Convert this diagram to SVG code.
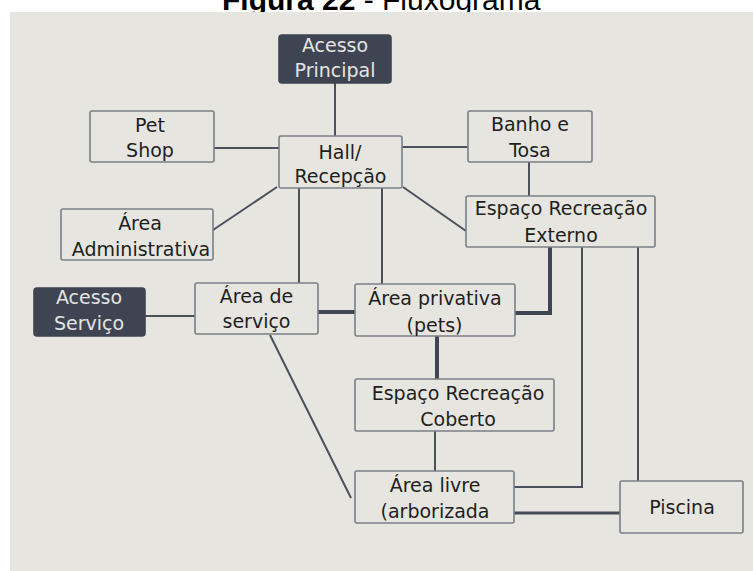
<svg xmlns="http://www.w3.org/2000/svg" width="753" height="571" viewBox="0 0 753 571">
<style>
.title{font-family:"Liberation Sans",Arial,sans-serif;font-size:30px;fill:#000}
.box{fill:#e6e5df;stroke:#7b7f88;stroke-width:1.6}
.dark{fill:#3e4451;stroke:#3e4451;stroke-width:1.6}
.t{font-family:"DejaVu Sans",sans-serif;font-size:19px;fill:#1e1e1e;text-anchor:middle}
.tl{font-family:"DejaVu Sans",sans-serif;font-size:19px;fill:#e4e4e4;text-anchor:middle}
.c{fill:none;stroke:#4a505c;stroke-width:2}
.ck{fill:none;stroke:#3f4552;stroke-width:4}
.cm{fill:none;stroke:#454b57;stroke-width:3}
</style>
<rect x="0" y="0" width="753" height="571" fill="#ffffff"/>
<text class="title" x="222" y="9.5"><tspan font-weight="bold">Figura 22</tspan> - Fluxograma</text>
<rect x="10" y="12" width="743" height="559" fill="#e6e5df"/>
<g id="connectors">
<path class="c" d="M335,83 V136"/>
<path class="c" d="M214,148 H279"/>
<path class="c" d="M402,147 H468"/>
<path class="c" d="M529,162 V196"/>
<path class="c" d="M277,187 L213,230"/>
<path class="c" d="M299,188 V283"/>
<path class="c" d="M382,188 V284"/>
<path class="c" d="M403,187 L466,231"/>
<path class="c" d="M145,316 H195"/>
<path class="ck" d="M318,312 H355"/>
<path class="ck" d="M550,247 V313 H515"/>
<path class="ck" d="M437,336 V379"/>
<path class="c" d="M435,431 V471"/>
<path class="c" d="M270,335 L351,498"/>
<path class="c" d="M582,247 V487 H514"/>
<path class="c" d="M638,247 V481"/>
<path class="cm" d="M514,513 H620"/>
</g>
<g id="acesso-principal"><rect class="dark" x="279" y="35" width="112" height="48" rx="3"/><text class="tl" x="335" y="52">Acesso</text><text class="tl" x="335" y="77">Principal</text></g>
<g id="hall"><rect class="box" x="279" y="136" width="123" height="52" rx="2"/><text class="t" x="340" y="159">Hall/</text><text class="t" x="340.5" y="183">Recepção</text></g>
<g id="pet-shop"><rect class="box" x="90" y="111" width="124" height="51" rx="2"/><text class="t" x="150" y="132">Pet</text><text class="t" x="150" y="157">Shop</text></g>
<g id="banho-tosa"><rect class="box" x="468" y="111" width="124" height="51" rx="2"/><text class="t" x="530" y="131">Banho e</text><text class="t" x="530" y="157">Tosa</text></g>
<g id="recreacao-externo"><rect class="box" x="466" y="196" width="189" height="51" rx="2"/><text class="t" x="561" y="215">Espaço Recreação</text><text class="t" x="561" y="242">Externo</text></g>
<g id="area-administrativa"><rect class="box" x="61" y="209" width="152" height="51" rx="2"/><text class="t" x="140" y="230">Área</text><text class="t" x="141" y="256">Administrativa</text></g>
<g id="acesso-servico"><rect class="dark" x="34" y="288" width="111" height="48" rx="3"/><text class="tl" x="89" y="304">Acesso</text><text class="tl" x="89" y="330">Serviço</text></g>
<g id="area-servico"><rect class="box" x="195" y="283" width="123" height="51" rx="2"/><text class="t" x="256.5" y="303">Área de</text><text class="t" x="256.5" y="328">serviço</text></g>
<g id="area-privativa"><rect class="box" x="355" y="284" width="160" height="52" rx="2"/><text class="t" x="435" y="305">Área privativa</text><text class="t" x="434.5" y="332">(pets)</text></g>
<g id="recreacao-coberto"><rect class="box" x="355" y="379" width="199" height="52" rx="2"/><text class="t" x="458" y="400">Espaço Recreação</text><text class="t" x="458" y="426">Coberto</text></g>
<g id="area-livre"><rect class="box" x="355" y="471" width="159" height="52" rx="2"/><text class="t" x="435" y="492">Área livre</text><text class="t" x="435" y="518">(arborizada</text></g>
<g id="piscina"><rect class="box" x="620" y="481" width="123" height="52" rx="2"/><text class="t" x="682" y="514">Piscina</text></g>
</svg>
